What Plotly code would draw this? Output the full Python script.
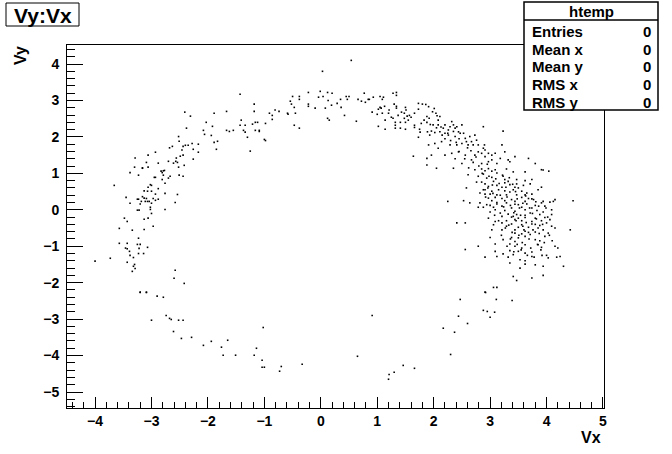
import plotly.graph_objects as go

# ---- data (Vx, Vy) ----
# upper-left arc
upper_left_vx = [-1.43,-2.41,-2.31,-1.89,-1.67,-1.41,-1.34,-1.43,-2.03,-1.92,-2.38,-2.08,-2.06,-1.94,-1.67,-1.62,-1.55,-1.37,-1.34,-2.52,-2.51,-1.89,-1.83,-1.85,-2.63,-2.68,-2.44,-2.40,-2.35,-2.28,-2.17,-2.46,-2.26,-2.17,-2.93,-3.06,-3.29,-3.09,-2.88,-2.70,-2.61,-2.56,-2.57,-2.54,-2.49,-2.44,-2.42,-2.26,-2.52,-3.30,-3.16,-3.06]
upper_left_vy = [3.17,2.68,2.57,2.65,2.70,2.46,2.32,2.32,2.40,2.29,2.24,2.18,2.07,2.04,2.18,2.15,2.18,2.18,2.13,2.01,1.88,1.85,1.88,1.66,1.74,1.70,1.74,1.77,1.77,1.82,1.80,1.64,1.66,1.58,1.58,1.50,1.42,1.30,1.28,1.33,1.28,1.42,1.33,1.30,1.47,1.50,1.22,1.39,1.17,1.17,1.14,1.17]

# top arc
top_vx = [0.54,0.03,-0.22,-0.01,0.12,0.20,-0.50,-0.38,-0.38,-0.04,0.04,0.13,0.35,0.45,0.50,0.47,0.66,0.77,0.72,0.79,0.84,0.86,0.93,1.05,1.11,1.09,1.28,1.34,1.34,1.30,1.34,1.34,1.13,1.05,1.02,1.07,1.21,1.20,1.09,1.00,0.91,1.14,1.02,1.14,1.25,1.28,1.32,1.41,1.32,1.32,1.41,1.50,1.50,1.37,1.48,1.50,1.51,1.43,1.53,1.57,1.60,1.55,1.48,1.66,1.73,1.73,1.80,1.83,1.78,1.66,1.66,1.75,1.76,1.73,1.64,0.63,0.42,0.36,0.29,0.19,0.08,0.12,0.15,-0.10,-0.22,-0.22,-0.47,-0.45,-0.54,-0.52,-0.59,-0.58,-0.47,-0.38,-0.74,-0.81,-0.91,-0.86,-0.86,-1.18,-1.18,-1.16,-1.12,-1.21,-0.98,-1.16,-1.09,-1.09,-1.30,-1.00,-0.98,-1.25]
top_vy = [4.10,3.80,3.22,3.25,3.22,3.20,3.11,3.11,3.03,3.09,3.11,3.00,3.03,3.11,3.11,3.03,3.03,3.20,2.98,2.95,3.03,3.03,3.09,3.11,3.09,3.03,3.20,3.22,3.14,2.90,2.84,2.79,2.84,2.81,2.76,2.79,2.74,2.65,2.65,2.62,2.68,2.46,2.29,2.21,2.54,2.51,2.40,2.40,2.32,2.24,2.24,2.40,2.21,2.59,2.65,2.81,2.74,2.68,2.57,2.59,2.54,2.46,2.51,2.65,2.76,2.92,2.90,2.46,2.37,2.32,2.26,2.21,2.13,1.99,1.47,2.43,2.59,2.81,2.92,2.87,2.79,2.51,2.46,2.79,2.84,2.90,2.81,2.65,2.98,2.90,2.65,2.62,2.32,2.24,2.70,2.74,2.65,2.59,2.48,2.90,2.70,2.40,2.40,2.35,2.37,2.18,2.15,2.18,1.99,1.93,1.90,1.61]

# left arc
left_vx = [-3.16,-3.38,-3.23,-2.83,-2.79,-2.77,-2.81,-2.95,-2.93,-2.79,-2.70,-2.67,-2.51,-2.44,-2.81,-2.76,-3.66,-3.02,-3.00,-3.06,-2.88,-3.13,-3.07,-3.00,-2.93,-2.76,-2.54,-3.45,-3.16,-3.13,-3.09,-3.25,-3.23,-2.97,-2.88,-3.18,-3.11,-3.07,-3.04,-2.93,-3.38,-3.20,-3.00,-2.58,-3.02,-3.02,-2.76,-3.25,-3.22,-3.00,-3.48,-3.43,-3.13,-3.06,-3.57,-3.34,-3.13,-2.97,-3.23,-3.57,-3.43,-3.25,-3.20,-3.46,-3.43,-3.22,-3.07,-3.39,-3.23,-3.14,-3.38,-3.32,-3.73,-4.00,-3.43,-3.30,-3.32,-3.29,-3.34,-2.58,-2.60,-2.42,-3.20,-3.09]
left_vy = [1.15,1.02,0.95,1.06,1.07,1.08,1.02,0.89,0.89,0.95,0.87,0.92,0.95,0.92,0.83,0.73,0.67,0.69,0.67,0.62,0.58,0.52,0.51,0.51,0.43,0.45,0.42,0.34,0.36,0.32,0.31,0.29,0.29,0.31,0.29,0.23,0.23,0.23,0.23,0.26,0.18,0.16,0.18,0.20,0.07,0.01,0.01,-0.01,-0.01,-0.10,-0.23,-0.32,-0.26,-0.23,-0.51,-0.56,-0.54,-0.45,-0.78,-0.92,-0.92,-0.95,-0.95,-1.05,-1.07,-1.06,-1.03,-1.14,-1.20,-1.20,-1.25,-1.31,-1.33,-1.41,-1.44,-1.50,-1.55,-1.61,-1.69,-1.66,-1.88,-2.02,-2.26,-2.26]

# bottom arc
bottom_vx = [-3.20,-3.09,-2.90,-2.79,-3.00,-2.74,-2.68,-2.65,-2.52,-2.44,-2.61,-2.47,-2.29,-2.08,-1.94,-1.76,-1.73,-1.65,-1.51,-1.02,-1.14,-1.18,-1.04,-1.04,-1.00,-0.73,-0.70,-0.33,0.65,0.91,1.20,1.21,1.30,1.46,1.66,2.92,2.47,3.11,3.39,2.88,2.95,3.08,3.00,2.44,2.60,2.17,2.37,2.30]
bottom_vy = [-2.27,-2.27,-2.37,-2.40,-3.03,-2.90,-2.98,-3.01,-3.03,-3.03,-3.34,-3.53,-3.50,-3.72,-3.61,-3.77,-3.99,-3.58,-3.99,-3.23,-3.80,-3.99,-4.13,-4.32,-4.32,-4.43,-4.30,-4.24,-4.02,-2.90,-4.65,-4.52,-4.46,-4.27,-4.35,-2.27,-2.46,-2.46,-2.49,-2.76,-2.79,-2.81,-2.95,-2.92,-3.12,-3.25,-3.36,-3.97]

# right arc (upper part)
right_top_vx = [1.86,1.91,2.01,1.98,2.04,2.06,2.11,2.08,1.88,1.92,1.88,1.94,1.99,2.08,2.13,2.20,2.17,2.26,2.29,2.32,2.35,2.38,2.41,2.44,2.50,2.47,2.20,2.11,2.02,1.96,1.89,1.93,2.26,2.38,2.53,2.56,2.58,2.64,2.67,2.73,2.76,2.61,2.70,2.88,2.90,2.79,2.88,2.91,2.97,3.03,3.09,3.23,3.21,3.26,3.32,3.12,2.97,2.79,2.73,2.56,2.44,2.32,2.20,1.88,1.96,2.08,2.29,2.14,2.02,1.91,2.50,2.41,2.91,3.03,3.18,3.35,3.80,3.94,3.68,3.44,2.85,2.67,2.50,2.35,2.05,1.88]
right_top_vy = [2.89,2.83,2.78,2.69,2.65,2.58,2.56,2.46,2.56,2.51,2.40,2.34,2.33,2.33,2.27,2.33,2.24,2.19,2.28,2.42,2.33,2.24,2.28,2.14,2.33,2.10,2.10,2.14,2.12,2.16,2.14,2.05,2.05,2.01,2.10,1.96,1.87,2.01,1.87,2.05,1.91,1.78,1.78,2.28,1.78,1.78,1.69,1.64,1.55,1.50,1.55,2.16,1.78,1.59,1.37,1.27,1.32,1.59,1.50,1.50,1.59,1.55,1.50,1.41,1.50,1.69,1.78,1.87,1.82,1.78,1.82,1.78,1.46,1.37,1.41,1.32,1.27,1.09,1.41,1.46,1.27,1.37,1.27,1.14,1.14,1.23]

# right dense cluster
cluster_vx = [2.73,2.85,2.91,2.97,3.03,3.09,3.12,2.88,3.29,3.41,3.62,3.91,4.04,
              2.61,2.79,2.94,3.03,3.23,3.26,3.32,3.47,3.62,3.74,3.06,2.76,2.85,
              2.91,2.97,3.12,3.26,3.35,3.47,3.59,3.71,3.44,3.21,3.50,2.58,3.85,3.91,
              2.91,3.03,3.15,3.26,3.35,3.41,3.56,3.65,3.74,2.91,3.12,3.29,3.47,3.62,2.82,3.00,
              2.97,3.09,3.21,3.38,3.56,3.68,3.77,3.03,3.26,3.44,3.62,3.94,4.06,4.12,2.53,2.64,2.25,4.47,4.15,
              2.82,2.94,3.12,3.29,3.50,3.65,3.80,3.91,3.97,3.06,3.21,3.38,3.56,3.74,2.88,2.79,
              3.09,3.26,3.44,3.62,3.83,3.94,4.09,3.32,3.47,3.71,3.88,3.18,3.00,4.09,
              3.21,3.41,3.50,3.62,3.80,3.97,3.29,3.56,3.74,3.91,2.97,3.09,2.56,2.41,3.44,4.06,
              3.21,3.38,3.56,3.74,3.88,4.00,3.06,3.50,3.68,3.85,4.09,4.15,3.29,
              3.21,3.44,3.62,3.80,3.94,3.44,3.56,3.71,4.03,3.03,4.42,
              3.00,3.38,3.50,3.62,3.80,3.88,3.97,3.23,3.44,
              3.09,3.35,3.44,3.62,3.85,2.79,3.56,3.91,2.56,4.15,
              3.09,3.35,3.50,3.74,3.41,3.62,3.23,
              2.91,3.12,3.32,3.53,3.74,4.03,4.18,4.24,4.00,
              3.35,3.62,3.80,3.94,3.53,4.30,
              3.41,3.74,3.94,3.47,
              3.06,3.12,2.91]
cluster_vy = [1.10,1.12,1.07,1.13,1.06,1.10,1.01,0.98,1.12,1.04,1.04,1.10,1.06,
              0.96,0.92,0.87,0.89,0.92,0.83,0.78,0.83,0.80,0.83,0.78,0.76,0.76,
              0.71,0.64,0.67,0.74,0.69,0.71,0.67,0.71,0.62,0.62,0.60,0.60,0.55,0.62,
              0.55,0.51,0.55,0.52,0.49,0.55,0.51,0.46,0.43,0.43,0.41,0.41,0.41,0.41,0.46,0.43,
              0.32,0.34,0.31,0.28,0.34,0.31,0.28,0.25,0.25,0.23,0.23,0.23,0.21,0.23,0.25,0.19,0.23,0.25,0.28,
              0.19,0.14,0.16,0.19,0.14,0.16,0.12,0.19,0.10,0.07,0.10,0.05,0.07,0.05,0.07,0.07,
              0.00,-0.02,-0.04,0.00,-0.02,-0.06,0.00,-0.12,-0.13,-0.09,-0.13,-0.09,-0.06,-0.13,
              -0.18,-0.18,-0.23,-0.21,-0.23,-0.21,-0.30,-0.30,-0.32,-0.30,-0.23,-0.32,-0.36,-0.36,-0.27,-0.27,
              -0.36,-0.39,-0.41,-0.39,-0.43,-0.36,-0.41,-0.48,-0.48,-0.50,-0.45,-0.50,-0.45,
              -0.55,-0.55,-0.59,-0.61,-0.55,-0.64,-0.66,-0.68,-0.64,-0.55,-0.55,
              -0.76,-0.76,-0.77,-0.73,-0.82,-0.85,-0.73,-0.82,-0.87,
              -0.94,-0.94,-1.00,-0.96,-0.96,-1.00,-1.05,-1.03,-1.09,-1.00,
              -1.14,-1.12,-1.14,-1.16,-1.23,-1.19,-1.21,
              -1.30,-1.28,-1.30,-1.37,-1.28,-1.32,-1.30,-1.28,-1.25,
              -1.46,-1.49,-1.51,-1.55,-1.60,-1.55,
              -1.83,-1.87,-1.80,-1.94,
              -2.13,-2.13,-2.26]

# additional points estimated in the densest part of the right cluster
cluster_core_vx = [3.30,3.36,3.42,3.48,3.54,3.58,3.64,3.70,3.76,3.82,
                   3.33,3.39,3.45,3.51,3.57,3.63,3.69,3.75,3.81,3.87,
                   3.18,3.24,3.27,3.15,3.12,3.20,3.08,3.05,3.00,2.96,
                   3.93,3.96,4.02,4.05,3.99,3.90,3.84,3.72,3.66,3.60,
                   3.40,3.34,3.28,3.22,3.16,3.10,3.04,2.98,2.92,2.88,
                   3.46,3.52,3.58,3.44,3.38,3.62,3.68,3.74,3.80,3.86,
                   3.55,3.48,3.42,3.36,3.30,3.62,3.78,3.92,4.10,4.20,
                   2.70,2.80,2.86,2.95,2.62,2.55,2.45,2.38,2.66,2.75,
                   2.20,2.30,2.40,2.15,2.05,2.25,2.35,2.45,2.60,2.85]
cluster_core_vy = [0.35,0.12,-0.08,0.30,-0.15,0.18,-0.35,0.05,-0.55,-0.25,
                   -0.42,-0.62,0.50,-0.70,-0.90,0.38,-0.80,-0.10,0.22,-0.65,
                   0.40,0.08,-0.50,-0.30,0.20,-0.70,-0.15,0.45,0.12,0.60,
                   -0.40,-0.90,-0.20,-0.70,0.05,-1.10,-0.95,-1.05,-1.25,-0.55,
                   0.70,0.88,0.62,0.95,0.72,0.85,0.68,0.92,0.35,0.55,
                   -0.30,0.05,-0.45,0.15,-0.20,-0.15,-0.62,0.30,-0.40,0.10,
                   -1.10,-0.95,-1.15,-0.80,-1.00,-1.40,-1.30,-1.25,-0.85,-1.05,
                   1.30,1.20,1.00,1.25,1.15,1.40,1.60,1.40,1.62,1.45,
                   1.95,1.90,1.85,2.05,2.25,2.10,2.15,1.95,1.70,1.55]

x_ticks = [-4, -3, -2, -1, 0, 1, 2, 3, 4, 5]
y_ticks = [4, 3, 2, 1, 0, -1, -2, -3, -4, -5]
x_range = [-4.497, 5.018]
y_range = [-5.439, 4.522]

title_text = "Vy:Vx"
stats_title = "htemp"
stats_labels = ["Entries", "Mean x", "Mean y", "RMS x", "RMS y"]
stats_values = ["0", "0", "0", "0", "0"]

vx = upper_left_vx + top_vx + left_vx + bottom_vx + right_top_vx + cluster_vx + cluster_core_vx
vy = upper_left_vy + top_vy + left_vy + bottom_vy + right_top_vy + cluster_vy + cluster_core_vy

# ---- layout geometry (pixels) ----
W, H = 672, 454
L, R, T, B = 67, 604, 45, 408


def px(x):
    return (x - L) / (R - L)


def py(y):
    return (B - y) / (B - T)


FONT = "Liberation Sans"

fig = go.Figure(
    go.Scatter(
        x=vx, y=vy, mode="markers",
        marker=dict(symbol="square", size=1.6, color="black", line=dict(width=0)),
        hoverinfo="skip",
    )
)

axis_common = dict(
    showgrid=False, zeroline=False, showline=True, linecolor="black", linewidth=1,
    mirror=True, ticks="inside", tickcolor="black", tickwidth=1,
    tickfont=dict(family=FONT, size=14, color="black", weight="bold"),
)

fig.update_layout(
    width=W, height=H,
    margin=dict(l=L, r=W - R, t=T, b=H - B, pad=0),
    paper_bgcolor="white", plot_bgcolor="white",
    showlegend=False,
    xaxis=dict(range=x_range, tickvals=x_ticks, ticklen=11,
               minor=dict(dtick=0.2, tick0=0, ticks="inside", ticklen=6, tickcolor="black", tickwidth=1),
               **axis_common),
    yaxis=dict(range=y_range, tickvals=y_ticks, ticklen=16,
               minor=dict(dtick=0.2, tick0=0, ticks="inside", ticklen=8, tickcolor="black", tickwidth=1),
               ticklabelstandoff=4,
               **axis_common),
)

shapes = []
annotations = []

# title box
shapes.append(dict(type="rect", xref="paper", yref="paper",
                   x0=px(6), x1=px(79), y0=py(26), y1=py(3),
                   line=dict(color="black", width=1), fillcolor="white", layer="above"))
annotations.append(dict(text=title_text, xref="paper", yref="paper",
                        x=px(42.5), y=py(15), xanchor="center", yanchor="middle",
                        showarrow=False, font=dict(family=FONT, size=21, color="black", weight="bold")))

# stats box
shapes.append(dict(type="rect", xref="paper", yref="paper",
                   x0=px(524), x1=px(658), y0=py(110), y1=py(2),
                   line=dict(color="black", width=1.5), fillcolor="white", layer="above"))
shapes.append(dict(type="line", xref="paper", yref="paper",
                   x0=px(524), x1=px(658), y0=py(20), y1=py(20),
                   line=dict(color="black", width=1.5), layer="above"))
annotations.append(dict(text=stats_title, xref="paper", yref="paper",
                        x=px(591), y=py(11.5), xanchor="center", yanchor="middle",
                        showarrow=False, font=dict(family=FONT, size=15, color="black", weight="bold")))
row_y = [31, 49, 67, 84, 102]
for lab, val, ry in zip(stats_labels, stats_values, row_y):
    annotations.append(dict(text=lab, xref="paper", yref="paper", x=px(530), y=py(ry),
                            xanchor="left", yanchor="middle", showarrow=False,
                            font=dict(family=FONT, size=15, color="black", weight="bold")))
    annotations.append(dict(text=val, xref="paper", yref="paper", x=px(653), y=py(ry),
                            xanchor="right", yanchor="middle", showarrow=False,
                            font=dict(family=FONT, size=15, color="black", weight="bold")))

# axis titles
annotations.append(dict(text="Vx", xref="paper", yref="paper", x=px(603), y=py(437),
                        xanchor="right", yanchor="middle", showarrow=False,
                        font=dict(family=FONT, size=16, color="black", weight="bold")))
annotations.append(dict(text="Vy", xref="paper", yref="paper", x=px(21), y=py(55),
                        xanchor="center", yanchor="middle", textangle=-90, showarrow=False,
                        font=dict(family=FONT, size=16, color="black", weight="bold")))

fig.update_layout(shapes=shapes, annotations=annotations)

fig.write_html("out.html", config={"displayModeBar": False},
               post_script="document.body.style.margin='0';document.body.style.padding='0';")
